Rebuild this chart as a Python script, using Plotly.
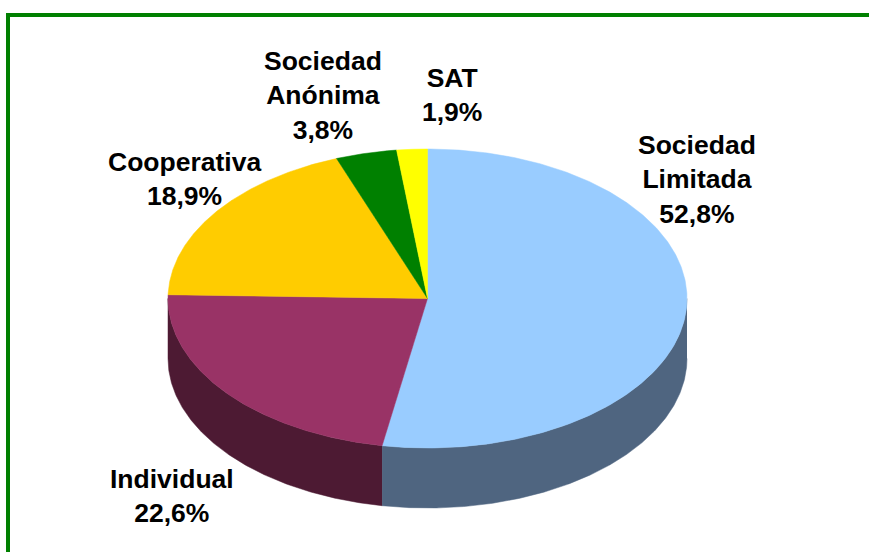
import numpy as np
import plotly.graph_objects as go

categories = ["Sociedad<br>Limitada", "Individual", "Cooperativa", "Sociedad<br>Anónima", "SAT"]
values = [52.8, 22.6, 18.9, 3.8, 1.9]
top_colors = ["#99CCFF", "#993366", "#FFCC00", "#008000", "#FFFF00"]
side_colors = ["#4F6580", "#4D1A33", "#806600", "#004000", "#808000"]
label_x = [697, 172, 184, 323, 452]
label_y = [179, 496, 179, 95, 95]

CX, CY, RX, RY, DEPTH = 427.5, 298.5, 259.5, 149.5, 60


def ex(t):
    return CX + RX * np.sin(t)


def ey(t):
    return CY - RY * np.cos(t)


fig = go.Figure()
edges = np.concatenate([[0], np.cumsum(values)]) / sum(values) * 2 * np.pi

# visible outer wall: the front half of the ellipse
for i in range(len(values)):
    a, b = max(edges[i], np.pi / 2), min(edges[i + 1], 3 * np.pi / 2)
    if a >= b:
        continue
    t = np.linspace(a, b, 200)
    xs = np.concatenate([ex(t), ex(t)[::-1]])
    ys = np.concatenate([ey(t), (ey(t) + DEPTH)[::-1]])
    fig.add_trace(go.Scatter(x=xs, y=ys, mode="lines", fill="toself", fillcolor=side_colors[i],
                             line=dict(width=0.5, color=side_colors[i]), hoverinfo="skip", showlegend=False))

# top faces
for i in range(len(values)):
    t = np.linspace(edges[i], edges[i + 1], 300)
    xs = np.concatenate([[CX], ex(t), [CX]])
    ys = np.concatenate([[CY], ey(t), [CY]])
    fig.add_trace(go.Scatter(x=xs, y=ys, mode="lines", fill="toself", fillcolor=top_colors[i],
                             line=dict(width=0.5, color=top_colors[i]), hoverinfo="skip", showlegend=False))

for name, v, lx, ly in zip(categories, values, label_x, label_y):
    fig.add_annotation(x=lx, y=ly, text=f"<b>{name}<br>{str(v).replace('.', ',')}%</b>", showarrow=False,
                       xanchor="center", yanchor="middle", align="center",
                       font=dict(family="Liberation Sans", size=26.5, color="#000000"))

fig.add_shape(type="rect", x0=8, y0=15, x1=900, y1=600, line=dict(color="#008000", width=4), layer="below")

fig.update_layout(
    width=869, height=552, margin=dict(l=0, r=0, t=0, b=0),
    paper_bgcolor="white", plot_bgcolor="white", showlegend=False,
    xaxis=dict(range=[0, 869], visible=False, fixedrange=True),
    yaxis=dict(range=[552, 0], visible=False, fixedrange=True),
)
fig.write_html(
    "out.html",
    config={"displayModeBar": False},
    post_script="document.body.style.margin='0';document.body.style.overflow='hidden';",
)
